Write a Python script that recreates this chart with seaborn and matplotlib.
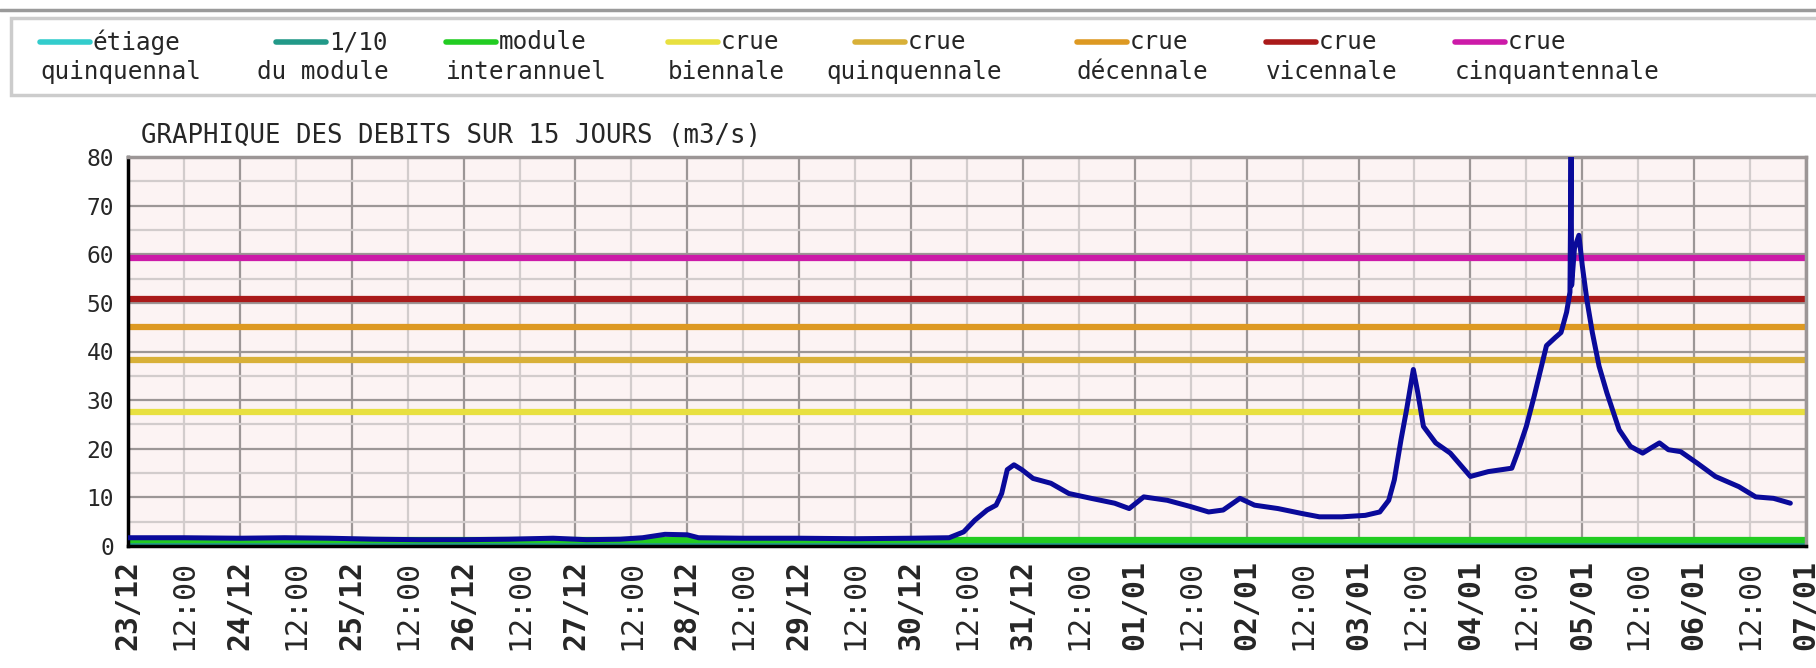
import numpy as np
import matplotlib
matplotlib.use("Agg")
import matplotlib.pyplot as plt
from matplotlib.lines import Line2D
from matplotlib.patches import Rectangle
import seaborn as sns

# Flow data (days since 23/12 00:00, m3/s)
days = [0.0, 0.5, 1.0, 1.4, 1.8, 2.2, 2.6, 3.0, 3.4, 3.8, 4.1, 4.4, 4.6, 4.8, 5.0,
        5.1, 5.5, 6.0, 6.5, 7.0, 7.34, 7.47, 7.57, 7.68, 7.76, 7.81, 7.86, 7.92,
        7.99, 8.09, 8.25, 8.41, 8.61, 8.82, 8.95, 9.08, 9.29, 9.5, 9.66, 9.79,
        9.94, 10.07, 10.28, 10.49, 10.65, 10.85, 11.06, 11.19, 11.27, 11.32,
        11.38, 11.43, 11.49, 11.53, 11.58, 11.69, 11.82, 12.0, 12.16, 12.37,
        12.42, 12.5, 12.57, 12.68, 12.76, 12.81, 12.86, 12.89, 12.9, 12.905,
        12.93, 12.97, 13.0, 13.04, 13.09, 13.15, 13.22, 13.33, 13.43, 13.54,
        13.61, 13.69, 13.77, 13.88, 14.03, 14.19, 14.4, 14.55, 14.71, 14.86]
flow = [1.7, 1.7, 1.6, 1.7, 1.6, 1.4, 1.3, 1.3, 1.4, 1.6, 1.3, 1.4, 1.7, 2.4, 2.3,
        1.7, 1.6, 1.6, 1.5, 1.6, 1.7, 2.9, 5.3, 7.4, 8.4, 10.8, 15.7, 16.7,
        15.7, 13.9, 12.9, 10.8, 9.8, 8.8, 7.7, 10.1, 9.4, 8.1, 7.0, 7.4,
        9.8, 8.4, 7.7, 6.7, 6.0, 6.0, 6.3, 7.0, 9.4, 13.6,
        21.9, 28.1, 36.3, 31.5, 24.6, 21.2, 19.1, 14.3, 15.3, 16.0,
        19.1, 24.6, 30.8, 41.2, 42.9, 43.9, 48.1, 52.2, 82.0, 53.6,
        61.2, 63.9, 57.7, 50.8, 43.9, 37.0, 31.5, 23.9, 20.5, 19.1,
        20.1, 21.2, 19.8, 19.4, 17.0, 14.3, 12.2, 10.1, 9.8, 8.8]

# Reference thresholds
thr_top = ["étiage", "1/10", "module", "crue", "crue", "crue", "crue", "crue"]
thr_bottom = ["quinquennal", "du module", "interannuel", "biennale",
              "quinquennale", "décennale", "vicennale", "cinquantennale"]
thr_values = [0.05, 0.45, 1.2, 27.6, 38.2, 45.1, 50.8, 59.2]
thr_colors = ["#33cccc", "#229988", "#22cc22", "#e8e040", "#d8b038",
              "#dd9922", "#aa1a1a", "#cc1aa8"]

date_labels = ["23/12", "24/12", "25/12", "26/12", "27/12", "28/12", "29/12",
               "30/12", "31/12", "01/01", "02/01", "03/01", "04/01", "05/01",
               "06/01", "07/01"]

sns.set_style("white")
plt.rcParams["font.family"] = ["DejaVu Sans Mono", "DejaVu Sans"]

W, H = 1816, 668
fig = plt.figure(figsize=(W / 100, H / 100), dpi=100)
ax = fig.add_axes([128 / W, (H - 546) / H, (1806 - 128) / W, (546 - 157) / H])
ax.set_facecolor("#fcf3f3")

# threshold lines
for v, c in zip(thr_values, thr_colors):
    ax.axhline(v, color=c, linewidth=4.5, zorder=2)

sns.lineplot(x=days, y=flow, ax=ax, color="#0a0a9a", linewidth=3.6, zorder=3)

ax.set_xlim(0, 15)
ax.set_ylim(0, 80)

major_x = np.arange(0, 16)
minor_x = np.arange(0.5, 15, 1.0)
ax.set_xticks(major_x)
ax.set_xticklabels(date_labels, rotation=90, fontsize=21.5, fontweight="bold")
ax.set_xticks(minor_x, minor=True)
ax.set_xticklabels(["12:00"] * len(minor_x), minor=True, rotation=90, fontsize=21.5)
ax.set_yticks(np.arange(0, 81, 10))
ax.set_yticklabels([str(v) for v in range(0, 81, 10)], fontsize=16.5)
ax.set_yticks(np.arange(5, 80, 10), minor=True)

ax.tick_params(axis="both", which="both", direction="out", length=7, width=2,
               color="black", pad=3)
ax.tick_params(axis="y", which="both", length=5, pad=5)

ax.grid(which="major", color="#9c9696", linewidth=1.6, zorder=1)
ax.grid(which="minor", color="#d2cccc", linewidth=1.6, zorder=1)
ax.set_axisbelow(True)
ax.set_xlabel("")
ax.set_ylabel("")

for side in ["left", "bottom"]:
    ax.spines[side].set_color("black")
    ax.spines[side].set_linewidth(2.5)
for side in ["top", "right"]:
    ax.spines[side].set_color("#9c9696")
    ax.spines[side].set_linewidth(2.5)

ax.text(13 / 1678, 1.02, "GRAPHIQUE DES DEBITS SUR 15 JOURS (m3/s)",
        transform=ax.transAxes, fontsize=18.5, ha="left", va="bottom")

# legend box on top
fig.add_artist(Line2D([0, 1], [1 - 10 / H, 1 - 10 / H], color="#9a9a9a",
                      linewidth=2.5, transform=fig.transFigure))
fig.add_artist(Rectangle((11 / W, 1 - 95 / H), 1.0, 77 / H, transform=fig.transFigure,
                         facecolor="white", edgecolor="#cccccc", linewidth=2.5))

line_x = [40, 276, 446, 668, 855, 1077, 1266, 1455]
second_x = [40, 257, 446, 668, 826, 1077, 1266, 1455]
for lx, sx, t1, t2, c in zip(line_x, second_x, thr_top, thr_bottom, thr_colors):
    fig.add_artist(Line2D([lx / W, (lx + 50) / W], [1 - 42 / H, 1 - 42 / H],
                          color=c, linewidth=4, transform=fig.transFigure))
    fig.text((lx + 53) / W, 1 - 42 / H, t1, fontsize=17.5, ha="left", va="center")
    fig.text(sx / W, 1 - 72 / H, t2, fontsize=17.5, ha="left", va="center")

fig.savefig("out.png", dpi=100)
